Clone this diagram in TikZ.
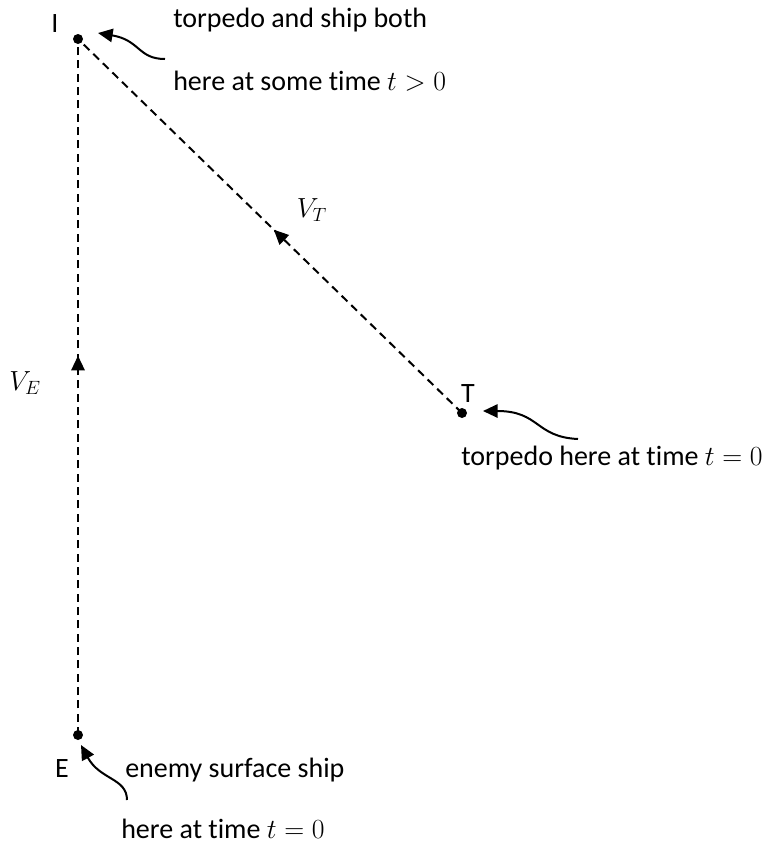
\documentclass[tikz,border=0pt]{standalone}
\usepackage{fontspec}
\setmainfont[Ligatures=NoCommon]{Carlito}
\usepackage{tikz}
\usetikzlibrary{arrows.meta,positioning,calc,decorations.markings}
\tikzset{
  dot/.style   = {circle, fill=black, inner sep=0pt, minimum size=7.5pt},
  dline/.style = {dash pattern=on 6pt off 4pt, line width=1.5pt},
  midar/.style = {postaction={decorate}, decoration={markings,
                  mark=at position #1 with {\arrow{Triangle[length=11pt,width=10pt]}}}},
  callout/.style = {-{Triangle[length=11pt,width=10pt]}, line width=1.5pt},
  txt/.style   = {inner sep=0pt, anchor=base west, font=\fontsize{21}{25}\selectfont},
  ptl/.style   = {inner sep=0pt, anchor=base, font=\fontsize{21}{25}\selectfont},
}
\begin{document}
\begin{tikzpicture}[x=0.75pt,y=-0.75pt]
  \useasboundingbox (0,0) rectangle (772,844);
  % points
  \node[dot] (I) at (78,39)   {};
  \node[dot] (E) at (78,735)  {};
  \node[dot] (T) at (462,413) {};
  \node[ptl] (lI) at (55,32)  {I};
  \node[ptl] (lT) at (468,402) {T};
  \node[ptl] (lE) at (62,777) {E};
  % paths
  \draw[dline, midar=0.545] (E.center) -- (I.center);
  \draw[dline, midar=0.49]  (T.center) -- (I.center);
  \node[txt, anchor=center] (vE) at (25,383) {$V_E$};
  \node[txt, anchor=center] (vT) at (312,210) {$V_T$};
  % notes
  \node[txt] (nI1) at (173,27)  {torpedo and ship both};
  \node[txt] (nI2) at (173,90)  {here at some time $t>0$};
  \node[txt] (nT)  at (461,465) {torpedo here at time $t=0$};
  \node[txt] (nE1) at (125,777) {enemy surface ship};
  \node[txt] (nE2) at (121,838) {here at time $t=0$};
  \coordinate (cI) at (165,59);
  \coordinate (cT) at (578,439);
  \coordinate (cE) at (127,800);
  \draw[callout] (cI) .. controls (138,59) and (140,40) .. ($(I.center)+(20,-6)$);
  \draw[callout] (cT) .. controls (535,437) and (540,411) .. ($(T.center)+(21,-2)$);
  \draw[callout] (cE) .. controls (127,778) and (100,780) .. ($(E.center)+(3,10)$);
\end{tikzpicture}
\end{document}
